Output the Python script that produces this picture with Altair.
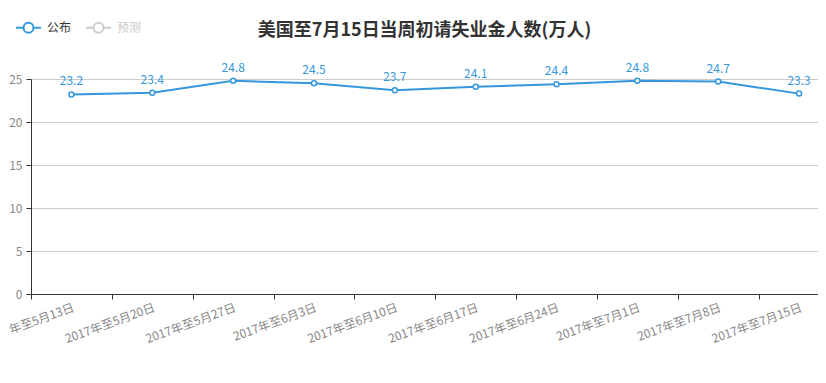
import altair as alt
import pandas as pd

weeks = ["2017年至5月13日", "2017年至5月20日", "2017年至5月27日", "2017年至6月3日",
         "2017年至6月10日", "2017年至6月17日", "2017年至6月24日", "2017年至7月1日",
         "2017年至7月8日", "2017年至7月15日"]
values = [23.2, 23.4, 24.8, 24.5, 23.7, 24.1, 24.4, 24.8, 24.7, 23.3]
series_names = ["公布", "预测"]
series_colors = ["#3498db", "#cccccc"]
y_ticks = [0, 5, 10, 15, 20, 25]

idx = list(range(len(weeks)))
df = pd.DataFrame({"i": idx, "week": weeks, "value": values,
                   "series": [series_names[0]] * len(weeks)})

FONT = "Noto Sans CJK SC"
BLUE = series_colors[0]
label_lookup = "[" + ",".join("'%s'" % w for w in weeks) + "]"

xscale = alt.Scale(domain=[-0.5, 9.234], nice=False, zero=False)

x_labels = alt.X("i:Q", title=None, scale=xscale,
                 axis=alt.Axis(orient="bottom", values=idx, labelExpr=label_lookup + "[datum.value]",
                               labelAngle=-20, labelAlign="right", labelBaseline="top",
                               labelColor="#888", labelFontSize=12, labelFont=FONT,
                               domainColor="#333", ticks=False, labelPadding=8, grid=False,
                               labelOverlap=False, labelBound=False, labelFlush=False))
x_ticks = alt.X("i:Q", title=None, scale=xscale,
                axis=alt.Axis(orient="bottom", values=[v - 0.5 for v in idx], labels=False,
                              domainColor="#333", tickColor="#333", tickSize=5, grid=False))
y = alt.Y("value:Q", title=None,
          scale=alt.Scale(domain=[0, 25], nice=False),
          axis=alt.Axis(values=y_ticks, labelColor="#888", labelFontSize=12, labelFont=FONT,
                        domainColor="#333", tickColor="#333", tickSize=5, gridColor="#cccccc",
                        labelPadding=4))

legend_path = "M-1,0L-0.4,0M0.4,0L1,0M-0.4,0A0.4,0.4,0,1,1,0.4,0A0.4,0.4,0,1,1,-0.4,0"

color = alt.Color("series:N", title=None,
                  scale=alt.Scale(domain=series_names, range=series_colors),
                  legend=alt.Legend(orient="none", legendX=-16, legendY=-65, direction="horizontal",
                                    symbolType=legend_path, symbolSize=625, symbolStrokeWidth=2,
                                    symbolFillColor="white", labelFont=FONT, labelFontSize=12,
                                    labelColor=alt.ExprRef("datum.label == '预测' ? '#cccccc' : '#333333'"),
                                    labelOffset=5, columnPadding=10))

base = alt.Chart(df).encode(y=y)

line = base.mark_line(strokeWidth=2, clip=True).encode(x=x_labels, color=color)
points = base.mark_point(filled=True, fill="white", stroke=BLUE, strokeWidth=1.5, size=25,
                         opacity=1).encode(x=x_ticks)
labels = base.mark_text(dy=-6, baseline="bottom", color=BLUE, fontSize=12, font=FONT).encode(
    x=alt.X("i:Q", scale=xscale, axis=None),
    text=alt.Text("value:Q", format=".1f"))

chart = alt.layer(line, points, labels).resolve_axis(x="independent").properties(
    width=787, height=215,
    title=alt.Title("美国至7月15日当周初请失业金人数(万人)", font=FONT, fontSize=18,
                    fontWeight="bold", color="#333", anchor="middle", frame="group",
                    offset=-26, dx=0),
    autosize=alt.AutoSizeParams(type="none"),
    padding={"left": 23, "top": 71, "right": 0, "bottom": 70},
).configure_view(stroke=None)

chart.save("out.html", embed_options={"renderer": "svg", "actions": False})
